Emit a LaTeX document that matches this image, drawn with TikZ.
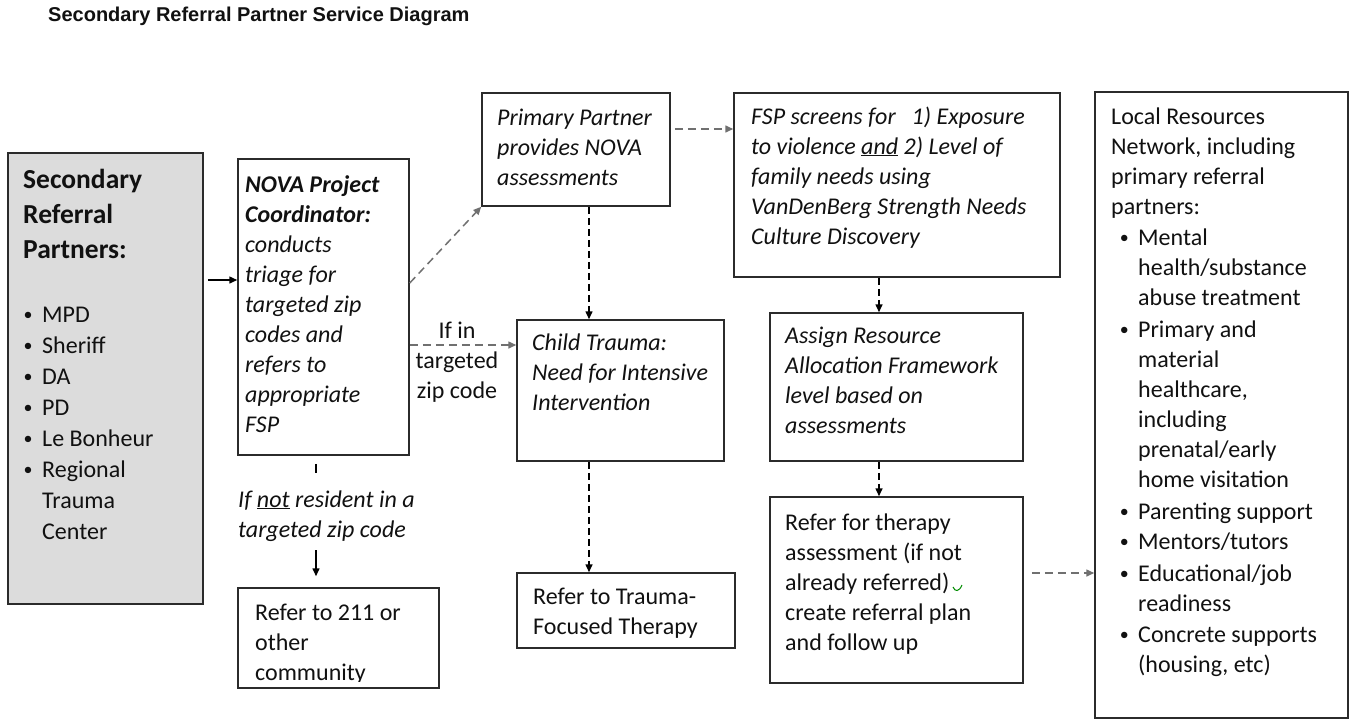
\documentclass[tikz,border=0pt]{standalone}
\usepackage{fontspec}
\setmainfont{Carlito}
\newfontfamily\titlefont{Liberation Sans}
\usetikzlibrary{arrows.meta,fit,calc}
\definecolor{boxgray}{HTML}{DCDCDC}
\definecolor{lnc}{HTML}{2B2B2B}
\definecolor{dashgray}{HTML}{707070}
\definecolor{txtc}{HTML}{111111}
\newcommand\txtlines[1]{\begin{minipage}[t]{400pt}#1\end{minipage}}
\newcommand\blt{\leavevmode\llap{\raisebox{2pt}{\fontsize{18}{18}\selectfont\textbullet}\hspace{9.5pt}}}
\begin{document}
\begin{tikzpicture}[x=1pt,y=-1pt,
  box/.style={draw=lnc, line width=1.5pt, inner sep=0pt, fit={#1}},
  txt/.style={anchor=base west, inner sep=0pt, text=txtc, font=\fontsize{24}{30}\selectfont},
  ittxt/.style={txt, font=\itshape\fontsize{24}{30}\selectfont},
  tip/.style={-{Triangle[length=8pt,width=7pt]}},
  solidarrow/.style={tip, line width=1.5pt, draw=black},
  darrow/.style={tip, line width=1.5pt, draw=black, dash pattern=on 7pt off 4pt},
  garrow/.style={tip, line width=1.5pt, draw=dashgray, dash pattern=on 8pt off 5pt}
]
\fill[white] (0,0) rectangle (1354,721);
\useasboundingbox (0,0) rectangle (1354,721);

% title
\node[txt, font=\titlefont\bfseries\fontsize{20}{24}\selectfont] (title) at (48,21) {Secondary Referral Partner Service Diagram};

% boxes
\node[box={(8,153) (203,604)}, fill=boxgray] (sec) {};
\node[box={(238,159) (409,455)}] (nova) {};
\node[box={(238,588) (439,688)}] (r211) {};
\node[box={(482,93) (670,206)}] (primary) {};
\node[box={(517,320) (724,461)}] (child) {};
\node[box={(517,573) (735,648)}] (tf) {};
\node[box={(734,93) (1060,277)}] (fsp) {};
\node[box={(770,313) (1023,461)}] (assign) {};
\node[box={(770,497) (1023,683)}] (refer) {};
\node[box={(1095,92) (1348,718)}] (local) {};

% texts
\node[txt, font=\bfseries\fontsize{27.5}{35}\selectfont] (sech) at (23,188) {\txtlines{Secondary\\Referral\\Partners:}};
\node[txt, font=\fontsize{24}{31}\selectfont] (secl) at (42,322) {\txtlines{\blt MPD\\\blt Sheriff\\\blt DA\\\blt PD\\\blt Le Bonheur\\\blt Regional\\Trauma\\Center}};

\node[ittxt] (novat) at (245,192) {\txtlines{\textbf{NOVA Project}\\\textbf{Coordinator:}\\conducts\\triage for\\targeted zip\\codes and\\refers to\\appropriate\\FSP}};

\node[ittxt] (notres) at (238,507) {\txtlines{If \underline{not} resident in a\\targeted zip code}};

\begin{scope}
\clip (r211.north west) rectangle ([yshift=7pt]r211.south east);
\node[txt] (r211t) at (255,620) {\txtlines{Refer to 211 or\\other\\community}};
\end{scope}

\node[ittxt] (primt) at (497,125) {\txtlines{Primary Partner\\provides NOVA\\assessments}};
\node[ittxt] (childt) at (532,350) {\txtlines{Child Trauma:\\Need for Intensive\\Intervention}};
\node[txt] (tft) at (533,604) {\txtlines{Refer to Trauma-\\Focused Therapy}};
\node[txt, anchor=base] (ifin) at (457,338) {\begin{minipage}[t]{100pt}\centering If in\\targeted\\zip code\end{minipage}};

\node[ittxt] (fspt) at (751,124) {\txtlines{FSP screens for\hspace{16pt}1) Exposure\\to violence \underline{and} 2) Level of\\family needs using\\VanDenBerg Strength Needs\\Culture Discovery}};
\node[ittxt] (assignt) at (785,343) {\txtlines{Assign Resource\\Allocation Framework\\level based on\\assessments}};
\node[txt] (refert) at (785,530) {\txtlines{Refer for therapy\\assessment (if not\\already referred)\\create referral plan\\and follow up}};
\draw[green!55!black, line width=1pt] (953,587) .. controls (955,592) and (959,592) .. (962,585);

\node[txt] (localh) at (1111,124) {\txtlines{Local Resources\\Network, including\\primary referral\\partners:}};
\node[txt] (locall) at (1138,245) {\txtlines{\blt Mental\\health/substance\\abuse treatment\\[2pt]\blt Primary and\\material\\healthcare,\\including\\prenatal/early\\home visitation\\[2pt]\blt Parenting support\\\blt Mentors/tutors\\[2pt]\blt Educational/job\\readiness\\[1pt]\blt Concrete supports\\(housing, etc)}};

% helper coordinates
\coordinate (yA) at (0,280);
\coordinate (yB) at (0,283);
\coordinate (yC) at (0,345);
\coordinate (xD) at (316,0);
\coordinate (d1) at (316,550);
\coordinate (xE) at (589,0);
\coordinate (yF) at (0,129);
\coordinate (xG) at (879,0);
\coordinate (yH) at (0,573);

% connectors
\draw[solidarrow] ([xshift=4pt]sec.east |- yA) -- (nova.west |- yA);
\draw[garrow] (nova.east |- yB) -- (primary.south west);
\draw[garrow] (nova.east |- yC) -- (child.west |- yC);
\draw[line width=1.5pt] (nova.south -| xD) ++(0,8) -- ++(0,9);
\draw[solidarrow, shorten >=11pt] (d1) -- (r211.north -| d1);
\draw[darrow] (primary.south -| xE) -- (child.north -| xE);
\draw[garrow] ([xshift=4pt]primary.east |- yF) -- (fsp.west |- yF);
\draw[darrow] (child.south -| xE) -- (tf.north -| xE);
\draw[darrow] (fsp.south -| xG) -- (assign.north -| xG);
\draw[darrow] (assign.south -| xG) -- (refer.north -| xG);
\draw[garrow] ([xshift=8pt]refer.east |- yH) -- (local.west |- yH);
\end{tikzpicture}
\end{document}
